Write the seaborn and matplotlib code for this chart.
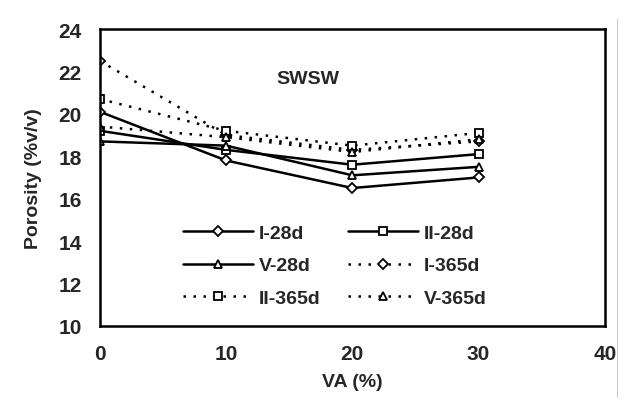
import pandas as pd
import numpy as np
import matplotlib.pyplot as plt
import seaborn as sns
from matplotlib.lines import Line2D

# values
va = [0, 10, 20, 30]
i_28d = [20.1, 17.8, 16.5, 17.0]
ii_28d = [19.2, 18.3, 17.6, 18.1]
v_28d = [18.7, 18.5, 17.1, 17.5]
i_365d = [22.5, 19.0, 18.3, 18.7]
ii_365d = [20.7, 19.2, 18.5, 19.1]
v_365d = [19.4, 18.9, 18.2, 18.8]

series = [
    ('I-28d', i_28d, 'D', '-'),
    ('II-28d', ii_28d, 's', '-'),
    ('V-28d', v_28d, '^', '-'),
    ('I-365d', i_365d, 'D', (0, (1, 3))),
    ('II-365d', ii_365d, 's', (0, (1, 3))),
    ('V-365d', v_365d, '^', (0, (1, 3))),
]

sns.set_theme(style='white')
plt.rcParams['font.family'] = ['Liberation Sans', 'DejaVu Sans']

fig = plt.figure(figsize=(6.32, 4.06), dpi=100)
ax = fig.add_axes([0.158, 0.195, 0.799, 0.731])

for name, vals, mk, ls in series:
    df = pd.DataFrame({'VA': va, 'Porosity': vals})
    sns.lineplot(data=df, x='VA', y='Porosity', ax=ax, color='black',
                 linestyle=ls, linewidth=1.8, marker=mk, markersize=6 if mk != 'D' else 5,
                 markerfacecolor='white', markeredgecolor='black', markeredgewidth=1.3,
                 label=name)

# legend filled row by row like the original
h, l = ax.get_legend_handles_labels()
order = [0, 2, 4, 1, 3, 5]
ax.legend([h[i] for i in order], [l[i] for i in order], ncol=2, frameon=False,
          loc='upper left', bbox_to_anchor=(0.13, 0.40), handlelength=3.6,
          columnspacing=1.4, labelspacing=0.75, handletextpad=0.3,
          prop={'size': 14, 'weight': 'bold'})

ax.set_xlim(0, 40)
ax.set_ylim(10, 24)
ax.set_xticks([0, 10, 20, 30, 40])
ax.set_yticks(np.arange(10, 25, 2))
ax.tick_params(axis='both', labelsize=15, direction='out', length=4, width=1,
               color='black', pad=9)
for t in ax.get_xticklabels() + ax.get_yticklabels():
    t.set_fontweight('bold')
ax.set_xlabel('VA (%)', fontsize=14, fontweight='bold', labelpad=7)
ax.set_ylabel('Porosity (%v/v)', fontsize=14, fontweight='bold', labelpad=12)
for sp in ax.spines.values():
    sp.set_color('black')
    sp.set_linewidth(1.8)

ax.text(14.0, 21.65, 'SWSW', fontsize=14, fontweight='bold', va='center')

# thin grey edge at right of the scanned page
fig.add_artist(Line2D([0.976, 0.976], [0.02, 0.95], transform=fig.transFigure,
                      color='#cccccc', linewidth=0.8))

fig.savefig('out.png', dpi=100)
